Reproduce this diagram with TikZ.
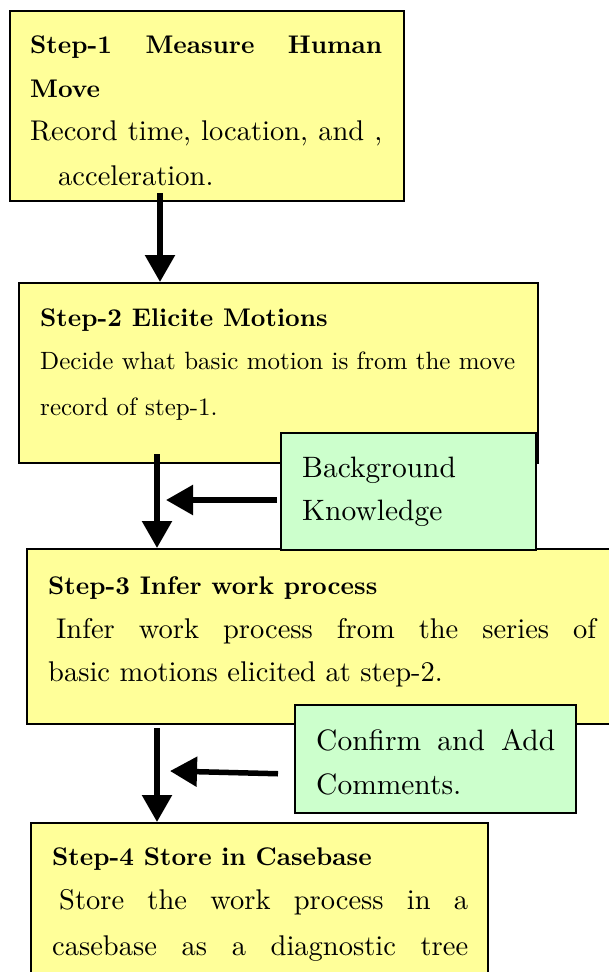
\documentclass[tikz,border=0pt]{standalone}
\usepackage{fontspec}
\setmainfont{lmroman10-regular}[Extension=.otf, BoldFont=lmroman10-bold]
\usetikzlibrary{arrows.meta,calc}
\definecolor{boxyellow}{RGB}{255,255,153}
\definecolor{boxgreen}{RGB}{204,255,204}
\newcommand\hdfont{\fontsize{25.5}{30}\selectfont\bfseries}
\newcommand\bdfont{\fontsize{28.5}{34}\selectfont}
\newcommand\smfont{\fontsize{25}{30}\selectfont}
\newcommand\gnfont{\fontsize{29.5}{35}\selectfont}
\begin{document}
\begin{tikzpicture}[x=1pt,y=-1pt,
  ybox/.style={draw=black, line width=1.5pt, fill=boxyellow, inner sep=0pt, anchor=north west},
  gbox/.style={draw=black, line width=1.5pt, fill=boxgreen, inner sep=0pt, anchor=north west},
  txt/.style={anchor=base west, inner sep=0pt},
  arr/.style={line width=5.5pt, -{Triangle[width=29pt,length=27pt]}},
]
\useasboundingbox (0,0) rectangle (609,972);

% boxes
\node[ybox, minimum width=394pt, minimum height=190pt] (s1) at (9,10) {};
\node[ybox, minimum width=519pt, minimum height=180pt] (s2) at (18,282) {};
\node[ybox, minimum width=620pt, minimum height=175pt] (s3) at (26,548) {};
\node[ybox, minimum width=457pt, minimum height=170pt] (s4) at (30,822) {};
\node[gbox, minimum width=255pt, minimum height=117pt] (bk) at (280,432) {};
\node[gbox, minimum width=281pt, minimum height=108pt] (ca) at (294,704) {};

% arrows
\coordinate (a1s) at (160,193);
\draw[arr] (a1s) -- (a1s |- s2.north);
\coordinate (a2s) at (157,454);
\draw[arr] (a2s) -- (a2s |- s3.north);
\coordinate (h1e) at (166,500);
\draw[arr] ($(bk.west |- h1e)+(-3,0)$) -- (h1e);
\coordinate (a3s) at (157,728);
\draw[arr] (a3s) -- (a3s |- s4.north);
\coordinate (h2e) at (170,771);
\draw[arr] ($(ca.west)+(-16,15)$) -- (h2e);

% texts
\node[txt] (t1a) at (30,53) {\hdfont\makebox[352pt][s]{Step-1 Measure Human}};
\node[txt] (t1b) at (30,97) {\hdfont Move};
\node[txt] (t1c) at (30,140) {\bdfont\makebox[352pt][s]{Record time, location, and ,}};
\node[txt] (t1d) at (58,185) {\bdfont acceleration.};

\node[txt] (t2a) at (40,326) {\hdfont Step-2 Elicite Motions};
\node[txt] (t2b) at (40,369) {\smfont Decide what basic motion is from the move};
\node[txt] (t2c) at (40,415) {\smfont record of step-1.};

\node[txt] (tbk1) at (302,477) {\gnfont Background};
\node[txt] (tbk2) at (302,520) {\gnfont Knowledge};

\node[txt] (t3a) at (48,594) {\hdfont Step-3 Infer work process};
\node[txt] (t3b) at (56,638) {\bdfont\makebox[540pt][s]{Infer work process from the series of}};
\node[txt] (t3c) at (48,681) {\bdfont basic motions elicited at step-2.};

\node[txt] (tca1) at (316,750) {\gnfont\makebox[239pt][s]{Confirm and Add}};
\node[txt] (tca2) at (316,794) {\gnfont Comments.};

\node[txt] (t4a) at (52,865) {\hdfont Step-4 Store in Casebase};
\node[txt] (t4b) at (59,909) {\bdfont\makebox[409pt][s]{Store the work process in a}};
\node[txt] (t4c) at (52,955) {\bdfont\makebox[416pt][s]{casebase as a diagnostic tree}};
\end{tikzpicture}
\end{document}
